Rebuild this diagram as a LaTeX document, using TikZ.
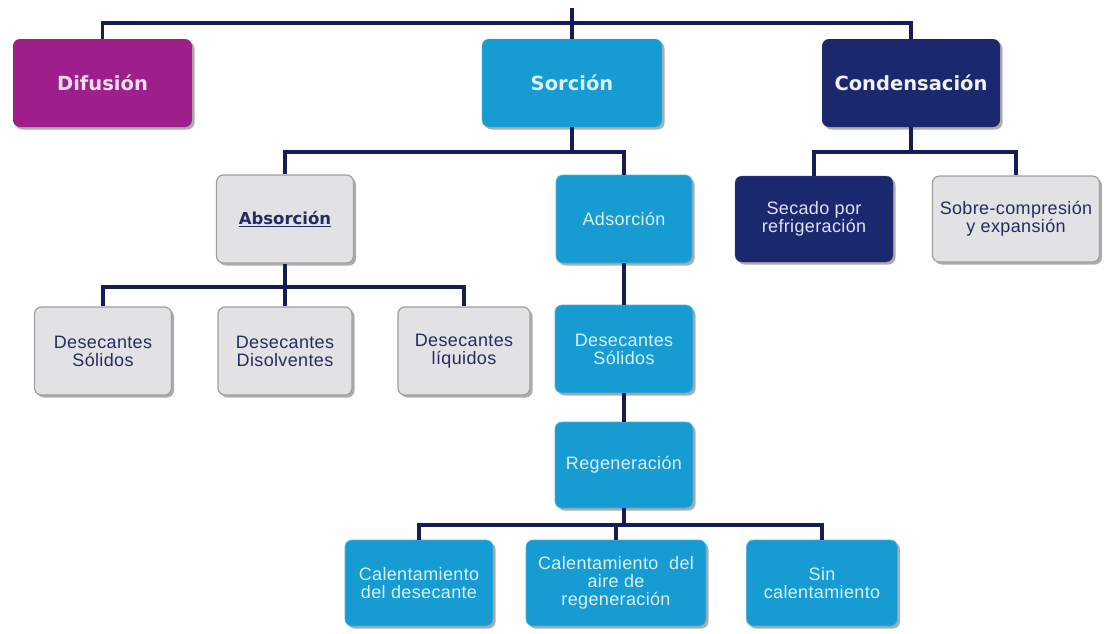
\documentclass[tikz,border=0pt]{standalone}
\usepackage{fontspec}
\setmainfont{Liberation Sans}[LetterSpace=2]
\newfontfamily\headfont{DejaVu Sans}
\usetikzlibrary{positioning, shadows}

\definecolor{difcolor}{RGB}{158,30,140}
\definecolor{sorcolor}{RGB}{22,155,210}
\definecolor{concolor}{RGB}{28,40,110}
\definecolor{boxgray}{RGB}{226,226,229}
\definecolor{txtnavy}{RGB}{35,45,95}
\definecolor{cyantext}{RGB}{215,242,250}
\definecolor{linkblue}{RGB}{22,28,85}

\begin{document}
\begin{tikzpicture}[
    x=1pt, y=-1pt,
    % Clean styles
    box/.style={
        rectangle,
        rounded corners=7pt,
        minimum width=136pt,
        minimum height=88pt,
        inner sep=2pt,
        align=center,
        drop shadow={shadow xshift=2.5pt, shadow yshift=-2.5pt,
                     opacity=0.4, fill=black!80}
    },
    headbox/.style={
        box,
        minimum width=179pt,
        font=\headfont\bfseries\fontsize{19.5}{22}\selectfont
    },
    graybox/.style={
        box,
        fill=boxgray,
        draw=gray!75,
        line width=1.2pt,
        text=txtnavy,
        font=\fontsize{18}{18}\selectfont
    },
    cyanbox/.style={
        box,
        fill=sorcolor,
        draw=sorcolor!75!white,
        line width=0.8pt,
        text=cyantext,
        font=\fontsize{18}{18}\selectfont
    },
    link/.style={
        line width=3.2pt,
        draw=linkblue
    }
]
\useasboundingbox[fill=white] (0,0) rectangle (1112,633);

% === Top: three methods ===
\node[headbox, fill=difcolor, text=difcolor!15!white] (difusion) at (102.5,83) {Difusión};
\node[headbox, fill=sorcolor, draw=sorcolor!75!white, text=cyantext, minimum width=180pt] (sorcion) at (572,83) {Sorción};
\node[headbox, fill=concolor, text=white!95!blue, minimum width=178pt] (condensacion) at (911,83) {Condensación};

% === Second row ===
\node[graybox, font=\headfont\bfseries\fontsize{16.5}{20}\selectfont, minimum width=137pt] (absorcion) at (285,219) {\underline{Absorción}};
\node[cyanbox] (adsorcion) at (624,219) {Adsorción};
\node[box, fill=concolor, draw=concolor!80!white, text=white!88!blue, minimum width=158pt, minimum height=86pt,
      font=\fontsize{18}{18}\selectfont] (secado) at (814,219) {Secado por\\refrigeración};
\node[graybox, minimum width=167pt, minimum height=86pt] (sobre) at (1016,219) {Sobre-compresión\\y expansión};

% === Third row: desiccants ===
\node[graybox, minimum width=137pt] (solidosA) at (103,351) {Desecantes\\Sólidos};
\node[graybox, minimum width=134pt] (disolventes) at (285,351) {Desecantes\\Disolventes};
\node[graybox, minimum width=132pt] (liquidos) at (464,351) {Desecantes\\líquidos};
\node[cyanbox, minimum width=138pt] (solidosB) at (624,349) {Desecantes\\Sólidos};

% === Regeneration branch ===
\node[cyanbox, minimum width=138pt, minimum height=86pt] (regen) at (624,465) {Regeneración};
\node[cyanbox, minimum width=148pt, minimum height=86pt] (caldes) at (419,583) {Calentamiento\\del desecante};
\node[cyanbox, minimum width=180pt, minimum height=86pt] (calaire) at (616,583) {Calentamiento\ \ del\\aire de\\regeneración};
\node[cyanbox, minimum width=151pt, minimum height=86pt] (sincal) at (822,583) {Sin\\calentamiento};

% === Connectors ===
\coordinate (root) at (572,8);
\coordinate (bus0) at (572,23);
\coordinate (bus1) at (572,152);
\coordinate (bus2) at (911,152);
\coordinate (bus3) at (285,287);
\coordinate (bus4) at (624,525);

\draw[link] (root) -- (sorcion.north);
\draw[link] (difusion.north) |- (bus0) -| (condensacion.north);

\draw[link] (sorcion.south) -- (bus1);
\draw[link] (absorcion.north) |- (bus1) -| (adsorcion.north);

\draw[link] (condensacion.south) -- (bus2);
\draw[link] (secado.north) |- (bus2) -| (sobre.north);

\draw[link] (absorcion.south) -- (bus3);
\draw[link] (solidosA.north) |- (bus3) -| (liquidos.north);
\draw[link] (disolventes.north) -- (bus3);

\draw[link] (adsorcion.south) -- (solidosB.north);
\draw[link] (solidosB.south) -- (regen.north);

\draw[link] (regen.south) -- (bus4);
\draw[link] (caldes.north) |- (bus4) -| (sincal.north);
\draw[link] (calaire.north) -- (calaire.north |- bus4);

\end{tikzpicture}
\end{document}
